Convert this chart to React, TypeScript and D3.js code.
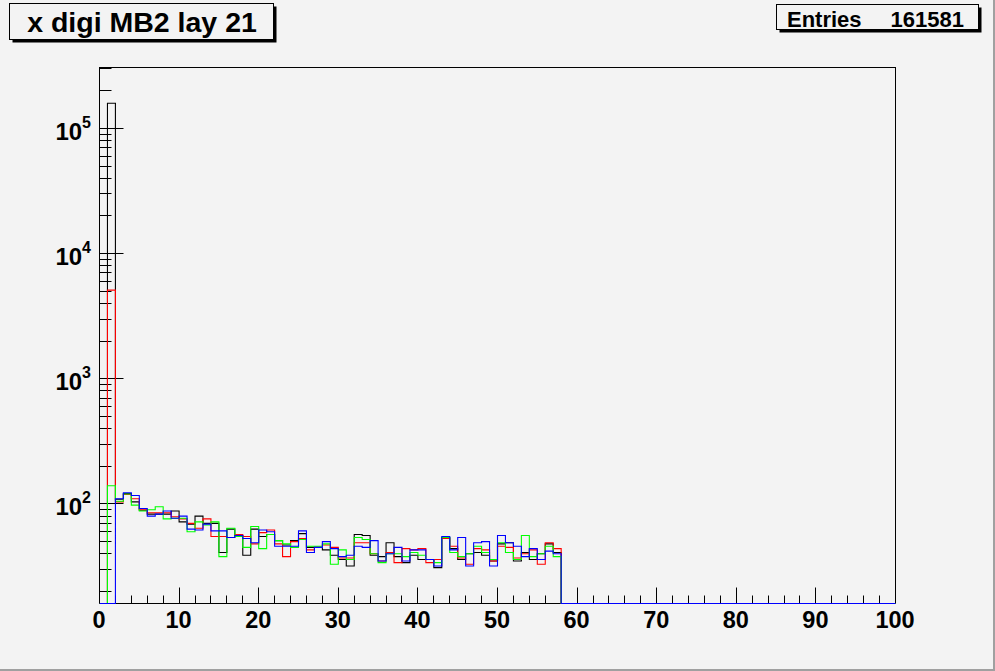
import * as d3 from "d3";

// ROOT-style 1D histograms, bins of width 1 on [0, 100], log y
const nBins = 100;
const xMin = 0;
const xMax = 100;

// bin contents for bins 0..57 (rest are empty)
const blackCounts = [
  0, 158400, 109, 121, 104, 89, 83, 83, 83, 88, 72, 69, 80, 70, 70, 41, 63, 56,
  39, 63, 55, 57, 51, 47, 51, 58, 45, 45, 43, 39, 36, 32, 57, 56, 39, 38, 49, 38,
  34, 39, 36, 36, 31, 54, 44, 36, 40, 41, 39, 35, 48, 49, 35, 41, 36, 40, 48, 41,
];
const redCounts = [
  0, 5100, 104, 119, 110, 90, 85, 85, 85, 79, 76, 70, 64, 76, 55, 55, 54, 57, 55,
  48, 59, 62, 48, 38, 50, 53, 43, 45, 47, 45, 37, 37, 49, 49, 40, 35, 41, 34, 44,
  43, 44, 34, 36, 53, 46, 37, 33, 44, 43, 35, 46, 45, 37, 40, 43, 33, 49, 44,
];
const greenCounts = [
  0, 140, 105, 120, 98, 88, 90, 95, 76, 77, 77, 60, 72, 68, 72, 38, 64, 55, 45,
  66, 44, 57, 51, 48, 45, 52, 46, 46, 48, 33, 43, 36, 54, 52, 40, 34, 40, 40, 38,
  41, 39, 36, 34, 54, 41, 38, 40, 46, 41, 36, 49, 41, 36, 56, 38, 40, 46, 38,
];
const blueCounts = [
  0, 0, 110, 123, 117, 92, 80, 83, 88, 77, 80, 63, 62, 69, 61, 61, 54, 56, 53,
  49, 62, 60, 46, 46, 46, 61, 41, 45, 50, 44, 38, 39, 46, 45, 51, 35, 40, 45, 35,
  43, 43, 36, 32, 55, 43, 54, 32, 49, 50, 32, 56, 49, 46, 38, 44, 36, 42, 40,
];

const seriesColors = ["#000000", "#ff0000", "#00ff00", "#0000ff"];
const allSeries = [blackCounts, redCounts, greenCounts, blueCounts];

const xTickLabels = ["0", "10", "20", "30", "40", "50", "60", "70", "80", "90", "100"];
const yDecades = [2, 3, 4, 5];

const titleText = "x digi MB2 lay 21";
const statsLabel = "Entries";
const statsValue = "161581";

const yMin = 16.04;
const yMax = 3.06e5;

const W = 995;
const H = 671;
const frame = { left: 99, right: 895, top: 67, bottom: 603 };
const font = "'Liberation Sans', Arial, Helvetica, sans-serif";

const x = d3.scaleLinear().domain([xMin, xMax]).range([frame.left, frame.right]);
const y = d3.scaleLog().domain([yMin, yMax]).range([frame.bottom, frame.top]);

const histPath = (counts: number[]) => {
  const pts: [number, number][] = [[x(xMin), frame.bottom]];
  const w = (xMax - xMin) / nBins;
  for (let i = 0; i < nBins; i++) {
    const v = counts[i] ?? 0;
    const yy = v > yMin ? y(v) : frame.bottom;
    pts.push([x(xMin + i * w), yy], [x(xMin + (i + 1) * w), yy]);
  }
  pts.push([x(xMax), frame.bottom]);
  return d3.line()(pts) ?? "";
};

export default function App() {
  const xTicks = d3.range(0, 101, 2);
  const yTicks: { v: number; major: boolean }[] = [];
  for (let e = 1; e <= 5; e++) {
    for (let m = 1; m <= 9; m++) {
      const v = m * Math.pow(10, e);
      if (v >= yMin && v <= yMax) yTicks.push({ v, major: m === 1 });
    }
  }

  return (
    <svg
      width={W}
      height={H}
      viewBox={`0 0 ${W} ${H}`}
      style={{ position: "absolute", left: 0, top: 0 }}
    >
      <rect x={0} y={0} width={W} height={H} fill="#f3f3f3" />
      <rect x={W - 2} y={0} width={2} height={H} fill="#a0a0a0" />
      <rect x={0} y={H - 2} width={W} height={2} fill="#a0a0a0" />

      {/* frame */}
      <rect
        x={frame.left + 0.5}
        y={frame.top + 0.5}
        width={frame.right - frame.left}
        height={frame.bottom - frame.top}
        fill="none"
        stroke="#000"
        strokeWidth={1}
      />

      {/* x ticks */}
      {xTicks.map((t) => (
        <line
          key={`xt${t}`}
          x1={Math.round(x(t)) + 0.5}
          x2={Math.round(x(t)) + 0.5}
          y1={frame.bottom + 0.5}
          y2={frame.bottom + 0.5 - (t % 10 === 0 ? 16 : 8)}
          stroke="#000"
        />
      ))}
      {xTickLabels.map((l) => (
        <text
          key={`xl${l}`}
          x={x(+l)}
          y={628}
          textAnchor="middle"
          fontFamily={font}
          fontWeight="bold"
          fontSize={23.5}
        >
          {l}
        </text>
      ))}

      {/* y ticks */}
      {yTicks.map((t) => (
        <line
          key={`yt${t.v}`}
          x1={frame.left + 0.5}
          x2={frame.left + 0.5 + (t.major ? 24 : 12)}
          y1={Math.round(y(t.v)) + 0.5}
          y2={Math.round(y(t.v)) + 0.5}
          stroke="#000"
        />
      ))}
      {yDecades.map((e) => (
        <text
          key={`yl${e}`}
          x={91}
          y={y(Math.pow(10, e)) + 12}
          textAnchor="end"
          fontFamily={font}
          fontWeight="bold"
          fontSize={24}
        >
          10
          <tspan fontSize={16} dy={-12}>
            {e}
          </tspan>
        </text>
      ))}

      {/* histograms */}
      <clipPath id="fr">
        <rect x={frame.left} y={frame.top} width={frame.right - frame.left + 1} height={frame.bottom - frame.top + 1} />
      </clipPath>
      <g clipPath="url(#fr)" transform="translate(0.5,0.5)">
        {allSeries.map((s, i) => (
          <path key={i} d={histPath(s)} fill="none" stroke={seriesColors[i]} strokeWidth={1.1} />
        ))}
      </g>

      {/* title box */}
      <rect x={12.5} y={6.5} width={264} height={36} fill="#000" />
      <rect x={9.5} y={3.5} width={264} height={36} fill="#f3f3f3" stroke="#000" />
      <text
        x={142}
        y={32}
        textAnchor="middle"
        fontFamily={font}
        fontWeight="bold"
        fontSize={28.5}
      >
        {titleText}
      </text>

      {/* stats box */}
      <rect x={779.5} y={7.5} width={202} height={25} fill="#000" />
      <rect x={776.5} y={4.5} width={202} height={25} fill="#f3f3f3" stroke="#000" />
      <text x={787} y={26.5} fontFamily={font} fontWeight="bold" fontSize={22}>
        {statsLabel}
      </text>
      <text x={964} y={26.5} textAnchor="end" fontFamily={font} fontWeight="bold" fontSize={22}>
        {statsValue}
      </text>
    </svg>
  );
}
